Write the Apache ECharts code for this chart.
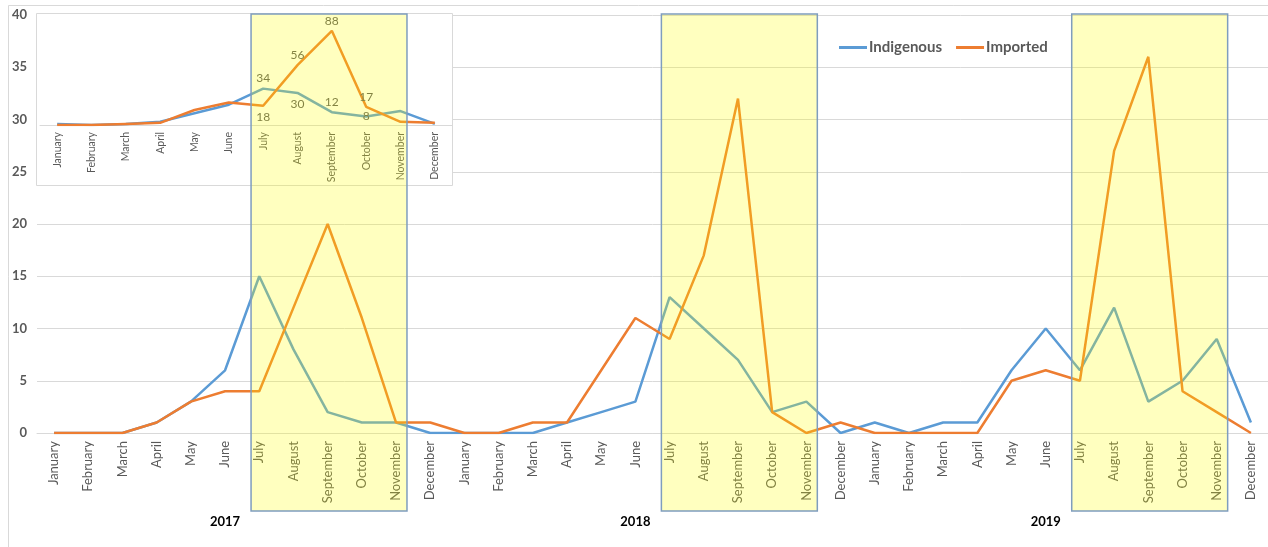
<!DOCTYPE html>
<html>
<head>
<meta charset="utf-8">
<title>Indigenous and imported cases by month, 2017–2019</title>
<script src="https://cdn.jsdelivr.net/npm/echarts@6/dist/echarts.min.js"></script>
<style>
  html, body { margin: 0; padding: 0; background: #ffffff; }
  #chart { width: 1268px; height: 547px; }
</style>
</head>
<body>
<div id="chart"></div>
<script>
// ---- data ----
const years = ['2017', '2018', '2019'];
const months = ['January', 'February', 'March', 'April', 'May', 'June',
  'July', 'August', 'September', 'October', 'November', 'December'];

// monthly case counts, January 2017 – December 2019
const indigenous2017 = [0, 0, 0, 1, 3, 6, 15, 8, 2, 1, 1, 0];
const indigenous2018 = [0, 0, 0, 1, 2, 3, 13, 10, 7, 2, 3, 0];
const indigenous2019 = [1, 0, 1, 1, 6, 10, 6, 12, 3, 5, 9, 1];
const imported2017 = [0, 0, 0, 1, 3, 4, 4, 12, 20, 11, 1, 1];
const imported2018 = [0, 0, 1, 1, 6, 11, 9, 17, 32, 2, 0, 1];
const imported2019 = [0, 0, 0, 0, 5, 6, 5, 27, 36, 4, 2, 0];

// totals per calendar month over the three years (small chart)
const insetIndigenous = [1, 0, 1, 3, 11, 19, 34, 30, 12, 8, 13, 1];
const insetImported = [0, 0, 1, 2, 14, 21, 18, 56, 88, 17, 3, 2];

const mainTicks = [0, 5, 10, 15, 20, 25, 30, 35, 40];
const highlightFrom = 'July';
const highlightTo = 'November';

// ---- build ----
const categories = [];
years.forEach(() => months.forEach(m => categories.push(m)));
const indigenous = indigenous2017.concat(indigenous2018, indigenous2019);
const imported = imported2017.concat(imported2018, imported2019);

const BLUE = '#5B9BD5';
const ORANGE = '#ED7D31';
const GREY = '#595959';
const FONT = 'Lato, "Noto Sans", sans-serif';

// where the numbers sit around the points of the small chart
const insetLabelPos = {
  Indigenous: { 6: 'top', 7: 'bottom', 8: 'top', 9: 'inside' },
  Imported: { 6: 'bottom', 7: 'top', 8: 'top', 9: 'top' }
};
function insetData(values, name) {
  return values.map((v, i) => {
    const pos = insetLabelPos[name][i];
    if (!pos) return v;
    return {
      value: v,
      label: {
        show: true, position: pos, distance: pos === 'top' ? 4 : 5,
        color: GREY, fontSize: 12, fontFamily: FONT
      }
    };
  });
}

const chart = echarts.init(document.getElementById('chart'), null, { renderer: 'canvas' });

const option = {
  animation: false,
  backgroundColor: '#ffffff',
  legend: {
    data: ['Indigenous', 'Imported'],
    left: 834, top: 35,
    icon: 'rect', itemWidth: 28, itemHeight: 3, itemGap: 14,
    textStyle: { color: GREY, fontSize: 15, fontWeight: 'bold', fontFamily: FONT, padding: [0, 0, 0, -3] }
  },
  grid: [
    { left: 37, right: 0, top: 15, bottom: 114 },
    { left: 40, width: 412, top: 18, height: 107 }
  ],
  xAxis: [
    {
      type: 'category', gridIndex: 0, data: categories, boundaryGap: true,
      axisLine: { lineStyle: { color: '#D9D9D9', width: 1 } },
      axisTick: { show: false },
      axisLabel: { interval: 0, rotate: 90, margin: 8, color: GREY, fontSize: 13, fontFamily: FONT }
    },
    {
      type: 'category', gridIndex: 0, data: categories, position: 'bottom', offset: 80,
      axisLine: { show: false }, axisTick: { show: false },
      axisLabel: {
        interval: 0, margin: 2, color: '#000000', fontSize: 13, fontWeight: 'bold', fontFamily: FONT,
        formatter: (v, i) => (i % 12 === 5 ? years[Math.floor(i / 12)] : '')
      }
    },
    {
      type: 'category', gridIndex: 1, data: months, boundaryGap: true, z: 3,
      axisLine: { lineStyle: { color: '#D9D9D9', width: 1 } },
      axisTick: { show: false },
      axisLabel: { interval: 0, rotate: 90, margin: 7, color: GREY, fontSize: 10.5, fontFamily: FONT }
    }
  ],
  yAxis: [
    {
      type: 'value', gridIndex: 0, min: mainTicks[0], max: mainTicks[mainTicks.length - 1],
      interval: mainTicks[1] - mainTicks[0],
      axisLine: { show: false }, axisTick: { show: false },
      splitLine: { lineStyle: { color: '#D9D9D9', width: 1 } },
      axisLabel: { margin: 10, color: GREY, fontSize: 13, fontWeight: 'bold', fontFamily: FONT }
    },
    {
      type: 'value', gridIndex: 1, min: 0, max: 100, show: false,
      splitLine: { show: false }
    }
  ],
  series: [
    {
      name: 'Indigenous', type: 'line', xAxisIndex: 0, yAxisIndex: 0, data: indigenous,
      symbol: 'none', lineStyle: { color: BLUE, width: 2.5 }, itemStyle: { color: BLUE }, z: 2
    },
    {
      name: 'Imported', type: 'line', xAxisIndex: 0, yAxisIndex: 0, data: imported,
      symbol: 'none', lineStyle: { color: ORANGE, width: 2.5 }, itemStyle: { color: ORANGE }, z: 2
    },
    {
      name: 'Indigenous', type: 'line', xAxisIndex: 2, yAxisIndex: 1,
      data: insetData(insetIndigenous, 'Indigenous'),
      symbol: 'circle', symbolSize: 0, showSymbol: true,
      lineStyle: { color: BLUE, width: 2.5 }, itemStyle: { color: BLUE }, z: 3
    },
    {
      name: 'Imported', type: 'line', xAxisIndex: 2, yAxisIndex: 1,
      data: insetData(insetImported, 'Imported'),
      symbol: 'circle', symbolSize: 0, showSymbol: true,
      lineStyle: { color: ORANGE, width: 2.5 }, itemStyle: { color: ORANGE }, z: 3
    }
  ]
};

chart.setOption(option);

// frame, small-chart panel and the July–November highlight bands
function drawOverlays() {
  const x = i => chart.convertToPixel({ xAxisIndex: 0 }, i);
  const y = v => chart.convertToPixel({ yAxisIndex: 0 }, v);
  const band = x(1) - x(0);
  const top = y(mainTicks[mainTicks.length - 1]) - 1;
  const bottom = y(0) + 78;
  const elements = [
    {
      type: 'rect', z: 0, silent: true,
      shape: { x: 8.5, y: 5.5, width: 1400, height: 700 },
      style: { fill: null, stroke: '#D9D9D9', lineWidth: 1 }
    },
    {
      type: 'rect', z: 1, silent: true,
      shape: { x: 36.5, y: 13.5, width: 416, height: 172 },
      style: { fill: '#ffffff', stroke: '#D9D9D9', lineWidth: 1 }
    }
  ];
  const a = months.indexOf(highlightFrom);
  const b = months.indexOf(highlightTo);
  years.forEach((yr, k) => {
    const x0 = x(k * 12 + a) - band * 0.24;
    const x1 = x(k * 12 + b) + band * 0.32;
    elements.push({
      type: 'rect', z: 50, silent: true,
      shape: { x: x0, y: top, width: x1 - x0, height: bottom - top },
      style: { fill: 'rgba(255,255,0,0.25)', stroke: '#7F9DBE', lineWidth: 1.5 }
    });
  });
  chart.setOption({ graphic: { elements } });
}
drawOverlays();
</script>
</body>
</html>
